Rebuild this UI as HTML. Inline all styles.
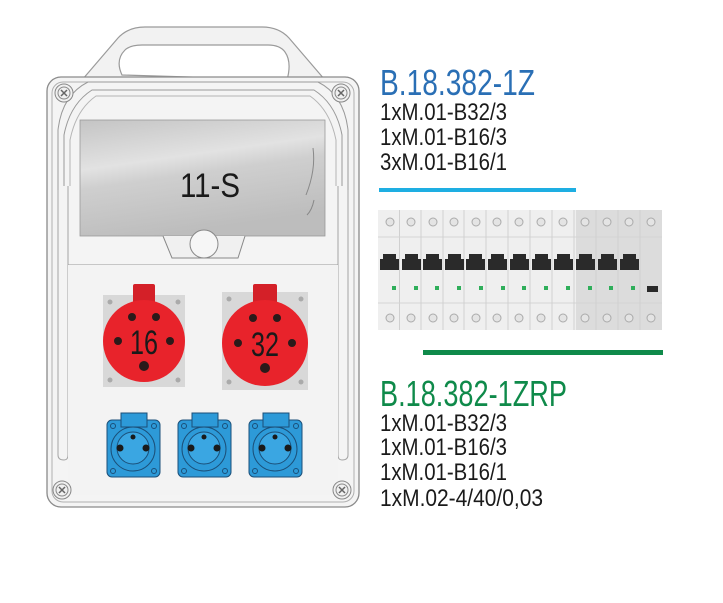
<!DOCTYPE html>
<html><head><meta charset="utf-8"><style>
html,body{margin:0;padding:0;background:#fff;width:723px;height:603px;overflow:hidden}
svg{display:block}
text{font-family:"Liberation Sans",sans-serif}
</style></head><body>
<svg width="723" height="603" viewBox="0 0 723 603" xmlns="http://www.w3.org/2000/svg">
<defs>
<linearGradient id="win" x1="0" y1="0" x2="0.3" y2="1">
<stop offset="0" stop-color="#c4c4c4"/><stop offset="0.4" stop-color="#e2e2e2"/><stop offset="0.55" stop-color="#cfcfcf"/><stop offset="1" stop-color="#bdbdbd"/>
</linearGradient>
</defs>
<path d="M82,80 L118,38 Q128,27 145,27 L262,27 Q279,27 289,38 L325,80" fill="#f2f2f2" stroke="#9a9a9a" stroke-width="1.2"/>
<path d="M122,75 Q115,60 125,50 Q130,45 142,45 L268,45 Q280,45 285,52 Q292,62 287,80 Z" fill="#fff" stroke="#9a9a9a" stroke-width="1.2"/>
<rect x="47" y="77" width="312" height="430" rx="14" fill="#f4f4f4" stroke="#8a8a8a" stroke-width="1.3"/>
<rect x="52" y="82" width="302" height="420" rx="11" fill="none" stroke="#b0b0b0" stroke-width="1"/>
<path d="M58,190 L58,130 Q62,95 88,82 L318,82 Q344,95 348,130 L348,190" fill="none" stroke="#9a9a9a" stroke-width="1"/>
<path d="M64,186 L64,135 Q70,104 92,90 L314,90 Q336,104 342,135 L342,186" fill="none" stroke="#9a9a9a" stroke-width="1"/>
<path d="M70,186 L70,140 Q76,110 96,96 L310,96 Q330,110 336,140 L336,186" fill="none" stroke="#b5b5b5" stroke-width="1"/>
<path d="M58,190 L58,455 Q58,460 64,460 Q68,460 68,455 L68,186" fill="none" stroke="#a5a5a5" stroke-width="1"/>
<path d="M348,190 L348,455 Q348,460 342,460 Q338,460 338,455 L338,186" fill="none" stroke="#a5a5a5" stroke-width="1"/>
<rect x="80" y="120" width="245" height="116" fill="url(#win)" stroke="#999" stroke-width="0.8"/>
<path d="M313,148 Q316,170 306,195 M314,200 Q312,210 307,215" stroke="#888" fill="none" stroke-width="1"/>
<text x="210" y="197" font-size="34" text-anchor="middle" fill="#1a1a1a" textLength="60" lengthAdjust="spacingAndGlyphs">11-S</text>
<path d="M163,236 L172,258 L238,258 L245,236" fill="#f0f0f0" stroke="#888" stroke-width="1"/>
<circle cx="204" cy="244" r="14" fill="#f6f6f6" stroke="#888" stroke-width="1"/>
<line x1="68" y1="265" x2="338" y2="265" stroke="#999" stroke-width="1"/>
<rect x="68" y="265" width="270" height="230" fill="#f3f3f3"/>
<g stroke="#888" fill="#f0f0f0">
<circle cx="64" cy="93" r="9"/><circle cx="64" cy="93" r="6"/>
<circle cx="341" cy="93" r="9"/><circle cx="341" cy="93" r="6"/>
<circle cx="62" cy="490" r="9"/><circle cx="62" cy="490" r="6"/>
<circle cx="342" cy="490" r="9"/><circle cx="342" cy="490" r="6"/>
</g>
<g stroke="#666" stroke-width="1.5">
<path d="M61,90 l6,6 M67,90 l-6,6"/><path d="M338,90 l6,6 M344,90 l-6,6"/>
<path d="M59,487 l6,6 M65,487 l-6,6"/><path d="M339,487 l6,6 M345,487 l-6,6"/>
</g>
<rect x="103" y="295" width="82" height="92" fill="#d8d8d8"/>
<rect x="222" y="292" width="86" height="98" fill="#d8d8d8"/>
<g fill="#aaa"><circle cx="110" cy="302" r="2.5"/><circle cx="178" cy="302" r="2.5"/><circle cx="110" cy="380" r="2.5"/><circle cx="178" cy="380" r="2.5"/>
<circle cx="229" cy="299" r="2.5"/><circle cx="301" cy="299" r="2.5"/><circle cx="229" cy="382" r="2.5"/><circle cx="301" cy="382" r="2.5"/></g>
<rect x="133" y="284" width="22" height="22" rx="2" fill="#d42028"/>
<rect x="253" y="284" width="24" height="22" rx="2" fill="#d42028"/>
<circle cx="144" cy="341" r="41" fill="#e8232b"/>
<circle cx="265" cy="343" r="43" fill="#e8232b"/>
<g fill="#2a1a1a">
<circle cx="132" cy="317" r="4"/><circle cx="156" cy="317" r="4"/><circle cx="118" cy="341" r="4"/><circle cx="170" cy="341" r="4"/><circle cx="144" cy="366" r="5"/>
<circle cx="253" cy="318" r="4"/><circle cx="277" cy="318" r="4"/><circle cx="238" cy="343" r="4"/><circle cx="292" cy="343" r="4"/><circle cx="265" cy="368" r="5"/>
</g>
<text x="144" y="354" font-size="34" text-anchor="middle" fill="#1a1a1a" textLength="28" lengthAdjust="spacingAndGlyphs">16</text>
<text x="265" y="356" font-size="34" text-anchor="middle" fill="#1a1a1a" textLength="28" lengthAdjust="spacingAndGlyphs">32</text>
<g id="b1">
<rect x="107" y="420" width="53" height="57" rx="5" fill="#2d9ad8" stroke="#1b4f78" stroke-width="1"/>
<rect x="121" y="413" width="26" height="14" fill="#2d9ad8" stroke="#1b4f78" stroke-width="1"/>
<circle cx="133" cy="449" r="22" fill="#2d9ad8" stroke="#1b4f78" stroke-width="1"/>
<circle cx="133" cy="448" r="16" fill="#3aa6e2" stroke="#1b4f78" stroke-width="1"/>
<circle cx="133" cy="437" r="2.5" fill="#1a1a1a"/><circle cx="120" cy="448" r="3.5" fill="#1a1a1a"/><circle cx="146" cy="448" r="3.5" fill="#1a1a1a"/>
<circle cx="113" cy="426" r="2.5" fill="none" stroke="#1b4f78"/><circle cx="154" cy="426" r="2.5" fill="none" stroke="#1b4f78"/>
<circle cx="113" cy="471" r="2.5" fill="none" stroke="#1b4f78"/><circle cx="154" cy="471" r="2.5" fill="none" stroke="#1b4f78"/>
</g>
<use href="#b1" x="71"/>
<use href="#b1" x="142"/>
<text x="380" y="95" font-size="36" fill="#2a6fb5" textLength="155" lengthAdjust="spacingAndGlyphs">B.18.382-1Z</text>
<g font-size="24" fill="#1a1a1a">
<text x="380" y="120" textLength="127" lengthAdjust="spacingAndGlyphs">1xM.01-B32/3</text>
<text x="380" y="145" textLength="127" lengthAdjust="spacingAndGlyphs">1xM.01-B16/3</text>
<text x="380" y="170" textLength="127" lengthAdjust="spacingAndGlyphs">3xM.01-B16/1</text>
</g>
<rect x="379" y="188" width="197" height="4" fill="#1eaee2"/>
<rect x="378" y="210" width="284" height="120" fill="#efefef"/>
<rect x="576" y="210" width="86" height="120" fill="#dcdcdc"/>
<line x1="399.5" y1="210" x2="399.5" y2="330" stroke="#d0d0d0"/>
<line x1="378" y1="237" x2="662" y2="237" stroke="#d5d5d5"/>
<line x1="378" y1="303" x2="662" y2="303" stroke="#d5d5d5"/>
<g stroke="#d0d0d0">
<line x1="421" y1="210" x2="421" y2="330"/><line x1="443" y1="210" x2="443" y2="330"/><line x1="464" y1="210" x2="464" y2="330"/><line x1="486" y1="210" x2="486" y2="330"/><line x1="508" y1="210" x2="508" y2="330"/><line x1="530" y1="210" x2="530" y2="330"/><line x1="552" y1="210" x2="552" y2="330"/><line x1="574" y1="210" x2="574" y2="330"/><line x1="596" y1="210" x2="596" y2="330"/><line x1="618" y1="210" x2="618" y2="330"/><line x1="640" y1="210" x2="640" y2="330"/>
</g>
<g id="hnd" fill="#2a2a2a"><rect x="383" y="254" width="13" height="6"/><rect x="380" y="259" width="19" height="11"/></g>
<use href="#hnd" x="22"/><use href="#hnd" x="43"/><use href="#hnd" x="65"/><use href="#hnd" x="86"/><use href="#hnd" x="108"/><use href="#hnd" x="130"/><use href="#hnd" x="152"/><use href="#hnd" x="174"/><use href="#hnd" x="196"/><use href="#hnd" x="218"/><use href="#hnd" x="240"/>
<rect x="647" y="286" width="11" height="6" fill="#2a2a2a"/>
<g fill="#2fae5a">
<rect x="392" y="286" width="4" height="4"/><rect x="414" y="286" width="4" height="4"/><rect x="435" y="286" width="4" height="4"/><rect x="457" y="286" width="4" height="4"/><rect x="479" y="286" width="4" height="4"/><rect x="501" y="286" width="4" height="4"/><rect x="522" y="286" width="4" height="4"/><rect x="544" y="286" width="4" height="4"/><rect x="566" y="286" width="4" height="4"/><rect x="588" y="286" width="4" height="4"/><rect x="609" y="286" width="4" height="4"/><rect x="631" y="286" width="4" height="4"/>
</g>
<g fill="#e4e4e4" stroke="#aaa" stroke-width="1">
<circle cx="390" cy="222" r="4"/><circle cx="411" cy="222" r="4"/><circle cx="433" cy="222" r="4"/><circle cx="454" cy="222" r="4"/><circle cx="476" cy="222" r="4"/><circle cx="497" cy="222" r="4"/><circle cx="519" cy="222" r="4"/><circle cx="541" cy="222" r="4"/><circle cx="563" cy="222" r="4"/><circle cx="585" cy="222" r="4"/><circle cx="607" cy="222" r="4"/><circle cx="629" cy="222" r="4"/><circle cx="651" cy="222" r="4"/>
<circle cx="390" cy="318" r="4"/><circle cx="411" cy="318" r="4"/><circle cx="433" cy="318" r="4"/><circle cx="454" cy="318" r="4"/><circle cx="476" cy="318" r="4"/><circle cx="497" cy="318" r="4"/><circle cx="519" cy="318" r="4"/><circle cx="541" cy="318" r="4"/><circle cx="563" cy="318" r="4"/><circle cx="585" cy="318" r="4"/><circle cx="607" cy="318" r="4"/><circle cx="629" cy="318" r="4"/><circle cx="651" cy="318" r="4"/>
</g>
<rect x="423" y="350" width="240" height="5" fill="#0f8a4a"/>
<text x="380" y="406" font-size="36" fill="#0f8a4a" textLength="187" lengthAdjust="spacingAndGlyphs">B.18.382-1ZRP</text>
<g font-size="24" fill="#1a1a1a">
<text x="380" y="431" textLength="127" lengthAdjust="spacingAndGlyphs">1xM.01-B32/3</text>
<text x="380" y="455" textLength="127" lengthAdjust="spacingAndGlyphs">1xM.01-B16/3</text>
<text x="380" y="480" textLength="127" lengthAdjust="spacingAndGlyphs">1xM.01-B16/1</text>
<text x="380" y="506" textLength="163" lengthAdjust="spacingAndGlyphs">1xM.02-4/40/0,03</text>
</g>
</svg>
</body></html>
